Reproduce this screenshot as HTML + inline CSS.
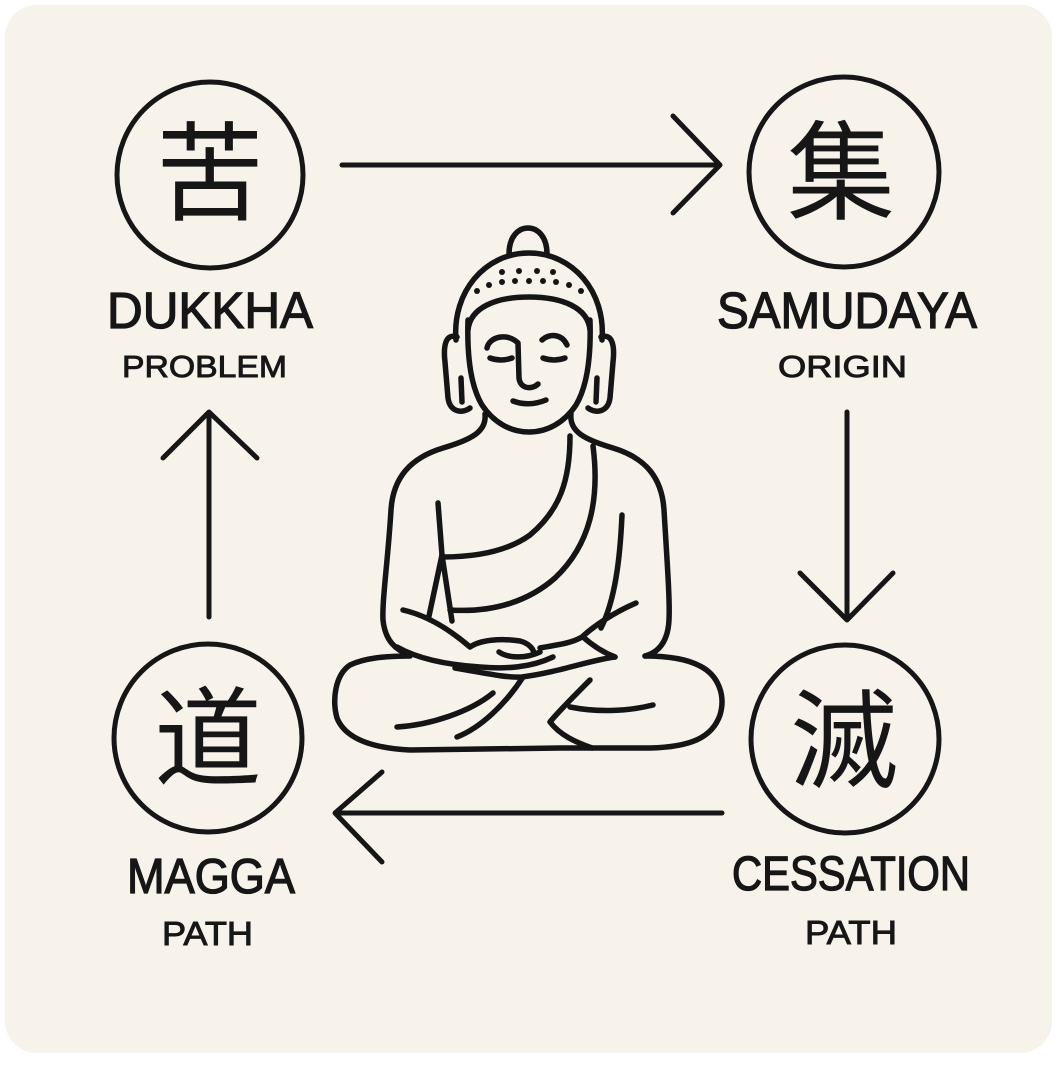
<!DOCTYPE html>
<html>
<head>
<meta charset="utf-8">
<style>
  html, body { margin: 0; padding: 0; background: #ffffff; }
  svg { display: block; }
  .lbl { font-family: "Liberation Sans", "DejaVu Sans", sans-serif; font-weight: normal; fill: #161616; stroke: #161616; stroke-width: 1.3; }
  .sub { font-family: "Liberation Sans", "DejaVu Sans", sans-serif; font-weight: normal; fill: #161616; stroke: #161616; stroke-width: 0.9; }
  .kj { font-family: "Liberation Sans", "Noto Sans CJK SC", "Noto Sans CJK JP", sans-serif; fill: #161616; }
</style>
</head>
<body>
<svg width="1058" height="1066" viewBox="0 0 1058 1066" xmlns="http://www.w3.org/2000/svg">
  <rect x="0" y="0" width="1058" height="1066" fill="#ffffff"/>
  <rect x="5" y="5" width="1047" height="1048" rx="32" ry="32" fill="#f7f3ea"/>

  <!-- Circles -->
  <g fill="none" stroke="#161616" stroke-width="5">
    <circle cx="210" cy="175" r="93"/>
    <circle cx="844" cy="172" r="95"/>
    <circle cx="208" cy="738" r="94"/>
    <circle cx="845" cy="739" r="94"/>
  </g>

  <!-- Kanji -->
  <text class="kj" x="210" y="212" font-size="108" text-anchor="middle">苦</text>
  <text class="kj" x="841" y="211" font-size="108" text-anchor="middle">集</text>
  <text class="kj" x="208" y="777" font-size="108" text-anchor="middle">道</text>
  <text class="kj" x="844" y="779" font-size="108" text-anchor="middle">滅</text>

  <!-- Labels -->
  <text class="lbl" x="107" y="328" font-size="51" textLength="206" lengthAdjust="spacingAndGlyphs">DUKKHA</text>
  <text class="sub" x="122" y="377" font-size="31" textLength="165" lengthAdjust="spacingAndGlyphs">PROBLEM</text>

  <text class="lbl" x="717" y="328" font-size="51" textLength="260" lengthAdjust="spacingAndGlyphs">SAMUDAYA</text>
  <text class="sub" x="778" y="377" font-size="31" textLength="129" lengthAdjust="spacingAndGlyphs">ORIGIN</text>

  <text class="lbl" x="127" y="893" font-size="49" textLength="168" lengthAdjust="spacingAndGlyphs">MAGGA</text>
  <text class="sub" x="162" y="945" font-size="33" textLength="91" lengthAdjust="spacingAndGlyphs">PATH</text>

  <text class="lbl" x="732" y="890" font-size="48" textLength="238" lengthAdjust="spacingAndGlyphs">CESSATION</text>
  <text class="sub" x="805" y="944" font-size="33" textLength="92" lengthAdjust="spacingAndGlyphs">PATH</text>

  <!-- Arrows -->
  <g fill="none" stroke="#161616" stroke-width="5" stroke-linecap="round" stroke-linejoin="round">
    <path d="M342,165 L719,165"/>
    <path d="M673,116 L720,165 L673,213"/>

    <path d="M847,412 L847,619"/>
    <path d="M800,573 L847,620 L893,573"/>

    <path d="M722,813 L336,813"/>
    <path d="M382,772 L335,813 L382,862"/>

    <path d="M209,617 L209,413"/>
    <path d="M163,458 L209,412 L257,458"/>
  </g>

  <!-- Buddha -->
  <g fill="none" stroke="#151515" stroke-width="5.5" stroke-linecap="round" stroke-linejoin="round">
    <!-- ushnisha -->
    <path d="M509,254 C509,237 518,228 528,228 C538,228 547,237 547,254"/>
    <!-- head outline -->
    <path d="M456,340 C452,292 485,253 529,253 C573,253 606,292 602,340"/>
    <!-- hairline -->
    <path d="M468,330 C470,308 495,297 529,297 C563,297 588,308 590,330"/>
    <!-- face -->
    <path d="M468,320 C467,352 470,385 482,405 C494,423 511,432 529,432 C547,432 564,423 576,405 C588,385 591,352 590,320"/>
    <!-- ears -->
    <path d="M457,337 C446,333 443,345 445,362 L448,398 C450,412 462,414 470,408"/>
    <path d="M461,378 L462,402"/>
    <path d="M601,337 C612,333 615,345 613,362 L610,398 C608,412 596,414 588,408"/>
    <path d="M597,378 L596,402"/>
    <!-- brows + nose -->
    <path d="M487,348 C489,337 507,332 518,343 L519,378 C520,389 532,390 538,384"/>
    <path d="M542,340 C550,333 562,334 567,345"/>
    <!-- eyes -->
    <path d="M490,358 Q501,362 512,358"/>
    <path d="M543,358 Q554,362 565,358"/>
    <!-- mouth -->
    <path d="M513,401 Q529,407 546,400"/>

    <!-- shoulders / torso -->
    <path d="M485,414 C487,432 470,440 443,448 C410,458 393,478 391,510 C388,560 382,600 383,620 C385,640 395,650 410,655"/>
    <path d="M571,414 C569,432 586,440 613,448 C646,458 662,478 664,510 C667,560 670,600 669,620 C668,640 660,652 645,656"/>

    <!-- sash -->
    <path d="M570,436 C570,480 560,510 530,535 C505,553 470,557 443,557"/>
    <path d="M593,446 C600,500 590,545 555,578 C530,600 495,613 450,610"/>

    <!-- inner arm lines left -->
    <path d="M438,503 L442,555 L452,621"/>
    <path d="M442,555 L429,616"/>
    <!-- inner arm right -->
    <path d="M622,515 C620,560 615,600 601,628"/>

    <!-- left forearm -->
    <path d="M403,610 C425,615 448,628 470,647 C480,640 500,638 520,641 C528,643 533,648 534,653"/>
    <!-- right forearm -->
    <path d="M636,603 C615,612 595,625 582,637 C570,644 555,645 540,648"/>
    <path d="M583,637 C592,645 602,652 615,657"/>
    <!-- hands -->
    <path d="M499,652 C508,658 525,659 540,652"/>
    <path d="M397,647 C420,660 450,665 480,667 C505,669 530,668 553,657"/>

    <!-- legs -->
    <path d="M410,656 C385,656 365,658 350,665 C335,675 332,700 337,718 C345,738 370,748 410,750 L560,748 L650,748 C690,747 712,738 720,715 C726,695 718,675 700,666 C685,658 665,656 645,656"/>
    <path d="M455,668 C480,672 505,678 522,677 C560,672 590,660 615,657"/>
    <!-- creases -->
    <path d="M493,693 C470,712 430,725 397,727"/>
    <path d="M523,677 C505,705 480,728 457,737"/>
    <path d="M653,705 C625,712 595,712 570,707"/>
    <path d="M590,680 C572,698 558,712 550,722 C560,735 575,742 592,748"/>
  </g>

  <!-- hair dots -->
  <g fill="#151515">
    <circle cx="502" cy="272" r="3"/>
    <circle cx="519" cy="271" r="3"/>
    <circle cx="537" cy="271" r="3"/>
    <circle cx="553" cy="272" r="3"/>
    <circle cx="477" cy="291" r="3"/>
    <circle cx="489" cy="285" r="3"/>
    <circle cx="502" cy="282" r="3"/>
    <circle cx="515" cy="281" r="3"/>
    <circle cx="529" cy="281" r="3"/>
    <circle cx="543" cy="281" r="3"/>
    <circle cx="556" cy="282" r="3"/>
    <circle cx="569" cy="285" r="3"/>
    <circle cx="581" cy="291" r="3"/>
  </g>
</svg>
</body>
</html>
